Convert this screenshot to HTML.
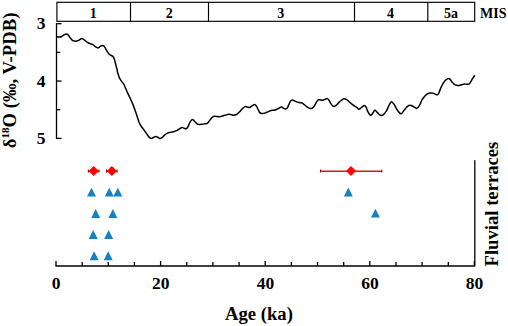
<!DOCTYPE html>
<html><head><meta charset="utf-8"><style>
html,body{margin:0;padding:0;background:#fff;}
svg{display:block;}
text{font-family:"Liberation Serif",serif;font-weight:bold;fill:#000;}
</style></head><body>
<svg width="508" height="326" viewBox="0 0 508 326">
<rect x="0" y="0" width="508" height="326" fill="#fff"/>
<g fill="none" stroke="#000" stroke-width="1.15">
<rect x="56.9" y="2.3" width="417.8" height="19"/>
<line x1="130.5" y1="2.3" x2="130.5" y2="21.3"/>
<line x1="208.5" y1="2.3" x2="208.5" y2="21.3"/>
<line x1="354.5" y1="2.3" x2="354.5" y2="21.3"/>
<line x1="427.8" y1="2.3" x2="427.8" y2="21.3"/>
</g>
<g font-size="14">
<text x="93.3" y="17.7" text-anchor="middle" style="font-size:14px">1</text>
<text x="169.2" y="17.7" text-anchor="middle" style="font-size:14px">2</text>
<text x="280.7" y="17.7" text-anchor="middle" style="font-size:14px">3</text>
<text x="390.5" y="17.7" text-anchor="middle" style="font-size:14px">4</text>
<text x="450.9" y="17.7" text-anchor="middle" style="font-size:14px">5a</text>
<text x="480.1" y="18.2" style="font-size:14px">MIS</text>
</g>
<g stroke="#000" stroke-width="1.3" fill="none">
<line x1="56.5" y1="23.1" x2="56.5" y2="139"/>
<line x1="56.5" y1="23.7" x2="61.5" y2="23.7"/><line x1="56.5" y1="52.4" x2="60.3" y2="52.4"/><line x1="56.5" y1="81.05" x2="61.5" y2="81.05"/><line x1="56.5" y1="109.7" x2="60.3" y2="109.7"/><line x1="56.5" y1="138.4" x2="61.5" y2="138.4"/>
<line x1="55.5" y1="266" x2="475" y2="266"/>
<line x1="474.8" y1="160.2" x2="474.8" y2="266"/>
<line x1="56.0" y1="266" x2="56.0" y2="261"/><line x1="82.2" y1="266" x2="82.2" y2="262"/><line x1="108.3" y1="266" x2="108.3" y2="262"/><line x1="134.4" y1="266" x2="134.4" y2="262"/><line x1="160.6" y1="266" x2="160.6" y2="261"/><line x1="186.8" y1="266" x2="186.8" y2="262"/><line x1="212.9" y1="266" x2="212.9" y2="262"/><line x1="239.1" y1="266" x2="239.1" y2="262"/><line x1="265.2" y1="266" x2="265.2" y2="261"/><line x1="291.4" y1="266" x2="291.4" y2="262"/><line x1="317.5" y1="266" x2="317.5" y2="262"/><line x1="343.7" y1="266" x2="343.7" y2="262"/><line x1="369.8" y1="266" x2="369.8" y2="261"/><line x1="396.0" y1="266" x2="396.0" y2="262"/><line x1="422.1" y1="266" x2="422.1" y2="262"/><line x1="448.3" y1="266" x2="448.3" y2="262"/><line x1="474.4" y1="266" x2="474.4" y2="261"/>
</g>
<g style="font-size:17px">
<text x="41" y="29.4" text-anchor="middle" style="font-size:17.5px">3</text>
<text x="41" y="86.6" text-anchor="middle" style="font-size:17.5px">4</text>
<text x="41" y="144" text-anchor="middle" style="font-size:17.5px">5</text>
<text style="font-size:17.5px" x="56.2" y="289.3" text-anchor="middle">0</text><text style="font-size:17.5px" x="160.8" y="289.3" text-anchor="middle">20</text><text style="font-size:17.5px" x="265.4" y="289.3" text-anchor="middle">40</text><text style="font-size:17.5px" x="370.0" y="289.3" text-anchor="middle">60</text><text style="font-size:17.5px" x="474.6" y="289.3" text-anchor="middle">80</text>
</g>
<path d="M56.5 36.7 C56.6 36.7 56.6 36.7 57.1 36.7 C57.6 36.8 58.6 37.0 59.4 37.0 C60.2 37.0 60.9 36.9 61.7 36.5 C62.5 36.1 63.2 35.2 64.0 34.8 C64.8 34.4 65.6 34.0 66.3 34.0 C67.0 34.0 67.6 34.4 68.2 35.0 C68.8 35.6 69.4 36.8 70.1 37.7 C70.8 38.6 71.6 39.7 72.4 40.3 C73.2 40.9 73.9 41.0 74.7 41.1 C75.5 41.2 76.2 41.2 77.0 41.0 C77.8 40.8 78.5 40.4 79.3 40.0 C80.1 39.6 81.0 38.6 81.9 38.6 C82.8 38.6 83.7 39.5 84.6 40.1 C85.5 40.7 86.5 41.8 87.4 42.4 C88.3 43.0 89.2 43.2 90.1 43.6 C91.0 44.0 92.0 44.2 92.9 44.7 C93.8 45.2 94.7 46.4 95.6 46.9 C96.5 47.4 97.3 48.0 98.1 47.9 C98.9 47.8 99.5 46.8 100.2 46.4 C100.9 46.0 101.8 45.4 102.5 45.4 C103.2 45.4 103.7 45.7 104.4 46.6 C105.1 47.5 105.9 49.5 106.7 50.7 C107.5 51.9 108.4 53.2 109.0 53.9 C109.6 54.6 109.9 54.7 110.5 55.1 C111.1 55.5 112.2 55.8 112.8 56.4 C113.4 57.0 113.8 57.8 114.2 58.7 C114.6 59.6 114.8 60.9 115.1 62.0 C115.4 63.1 115.7 64.4 116.0 65.6 C116.3 66.8 116.7 68.1 117.0 69.3 C117.3 70.5 117.3 71.3 117.6 72.5 C117.9 73.7 118.5 75.2 118.8 76.2 C119.1 77.2 119.0 77.3 119.5 78.2 C120.0 79.1 120.9 80.4 121.6 81.4 C122.3 82.4 123.1 83.1 123.8 84.2 C124.5 85.3 125.0 86.9 125.6 88.3 C126.2 89.7 126.8 91.1 127.4 92.5 C128.0 93.9 128.8 95.2 129.4 96.6 C130.1 98.0 130.7 99.5 131.3 100.8 C131.9 102.1 132.2 102.7 132.9 104.4 C133.6 106.1 134.6 108.9 135.3 111.0 C136.1 113.1 136.8 115.2 137.4 117.2 C138.1 119.2 138.5 121.1 139.2 122.7 C139.9 124.3 140.9 125.8 141.7 127.0 C142.5 128.2 143.3 129.0 144.1 130.1 C144.9 131.2 145.8 132.5 146.6 133.7 C147.4 134.9 148.3 136.3 149.1 137.1 C149.9 137.9 150.6 138.5 151.4 138.5 C152.2 138.5 152.9 137.6 153.7 137.3 C154.4 137.0 155.2 136.6 155.9 136.6 C156.6 136.6 157.2 137.0 157.9 137.3 C158.6 137.6 159.4 138.5 160.2 138.5 C161.0 138.5 161.7 137.7 162.5 137.1 C163.3 136.5 164.0 135.4 164.8 134.8 C165.6 134.2 166.3 133.7 167.1 133.3 C167.9 132.9 168.6 132.6 169.4 132.4 C170.2 132.2 171.3 132.1 172.1 131.9 C172.9 131.7 173.6 131.6 174.4 131.4 C175.2 131.2 175.9 131.1 176.7 130.7 C177.5 130.3 178.2 129.8 179.0 129.2 C179.8 128.6 181.0 127.6 181.8 127.4 C182.7 127.2 183.3 128.0 184.1 128.2 C184.9 128.4 185.7 129.0 186.4 128.7 C187.1 128.3 187.7 127.2 188.3 126.1 C188.9 125.0 189.4 123.1 190.1 122.0 C190.8 120.9 191.6 119.5 192.4 119.4 C193.2 119.3 193.9 120.8 194.7 121.5 C195.5 122.2 196.3 123.3 197.0 123.8 C197.7 124.3 198.1 124.3 198.9 124.4 C199.8 124.5 201.1 124.4 202.1 124.3 C203.1 124.2 203.9 124.0 204.8 123.8 C205.7 123.6 206.8 123.8 207.6 123.2 C208.4 122.6 209.1 121.1 209.9 120.1 C210.7 119.1 211.5 118.0 212.2 117.4 C212.9 116.8 213.2 116.5 214.0 116.3 C214.8 116.1 216.0 116.4 216.8 116.5 C217.6 116.6 218.2 116.7 219.0 116.7 C219.8 116.7 220.4 116.5 221.4 116.3 C222.4 116.0 223.9 115.5 225.1 115.2 C226.3 114.9 227.7 114.4 228.8 114.3 C229.9 114.2 230.8 114.5 231.6 114.7 C232.4 114.9 233.1 115.3 233.9 115.2 C234.7 115.1 235.7 114.8 236.6 114.3 C237.5 113.8 238.5 112.9 239.4 112.0 C240.3 111.1 241.2 109.9 242.1 109.0 C243.0 108.1 244.1 106.9 244.9 106.6 C245.8 106.2 246.4 106.8 247.2 106.9 C248.0 107.1 248.7 107.7 249.5 107.5 C250.3 107.3 251.0 106.5 251.8 106.0 C252.7 105.5 253.8 104.4 254.6 104.4 C255.4 104.4 255.8 105.2 256.4 106.1 C257.0 107.0 257.7 108.7 258.3 109.8 C258.9 110.9 259.2 112.0 259.8 112.6 C260.4 113.2 261.0 113.4 261.8 113.5 C262.6 113.6 263.7 113.4 264.8 113.1 C265.9 112.8 267.3 112.0 268.4 111.6 C269.5 111.1 270.2 110.6 271.2 110.4 C272.2 110.2 273.3 110.5 274.4 110.2 C275.5 110.0 276.5 109.4 277.6 108.9 C278.8 108.4 280.3 107.1 281.3 107.0 C282.3 106.9 282.9 108.1 283.6 108.4 C284.3 108.7 284.8 109.1 285.4 109.0 C286.0 108.9 286.8 108.6 287.3 107.9 C287.9 107.2 288.2 105.9 288.7 104.8 C289.2 103.7 289.9 101.9 290.5 101.1 C291.1 100.3 291.9 100.0 292.5 99.9 C293.1 99.8 293.5 100.4 294.2 100.7 C294.9 101.0 295.6 101.6 296.5 101.9 C297.4 102.2 298.4 102.4 299.3 102.6 C300.2 102.8 300.8 102.5 301.6 102.8 C302.4 103.1 303.1 103.7 303.9 104.3 C304.7 104.9 305.7 106.0 306.6 106.6 C307.5 107.2 308.4 107.8 309.2 108.1 C310.0 108.4 310.5 108.7 311.2 108.5 C311.9 108.3 312.6 108.0 313.3 107.2 C314.0 106.4 314.9 104.8 315.6 103.6 C316.3 102.4 317.0 100.8 317.7 100.2 C318.4 99.6 319.1 99.9 320.0 99.9 C320.9 99.9 321.9 100.3 322.8 100.2 C323.7 100.1 324.3 99.6 325.1 99.3 C325.9 99.0 326.7 98.4 327.4 98.6 C328.1 98.8 328.6 99.6 329.2 100.5 C329.8 101.4 330.3 102.9 331.0 103.9 C331.7 104.9 332.5 106.0 333.3 106.3 C334.1 106.6 334.8 106.3 335.6 105.7 C336.5 105.1 337.5 103.8 338.4 102.9 C339.3 102.0 340.3 101.2 341.2 100.5 C342.1 99.8 343.0 98.9 343.9 98.8 C344.8 98.7 345.8 99.2 346.7 99.7 C347.6 100.2 348.5 101.2 349.4 102.0 C350.3 102.8 351.3 103.6 352.2 104.3 C353.1 105.0 354.2 105.8 355.0 106.3 C355.8 106.8 356.1 107.0 356.8 107.5 C357.5 108.0 358.3 109.3 359.1 109.3 C359.9 109.3 360.5 108.1 361.4 107.5 C362.2 106.9 363.4 105.6 364.2 105.5 C365.0 105.4 365.4 106.0 366.0 107.0 C366.6 108.0 367.1 110.2 367.9 111.6 C368.6 113.0 369.7 114.9 370.5 115.2 C371.3 115.5 372.0 114.1 372.7 113.3 C373.4 112.5 374.1 110.4 374.8 110.2 C375.5 110.0 376.3 111.3 377.1 112.1 C377.9 112.8 378.6 114.1 379.4 114.7 C380.2 115.3 381.1 115.7 381.9 115.6 C382.7 115.5 383.3 114.8 384.0 114.1 C384.7 113.4 385.5 112.5 386.3 111.2 C387.1 109.9 387.8 107.7 388.6 106.1 C389.4 104.5 390.5 102.2 391.3 101.8 C392.1 101.4 393.0 103.2 393.6 103.8 C394.2 104.4 394.2 104.4 394.8 105.5 C395.4 106.6 396.4 108.8 397.4 110.2 C398.4 111.6 399.9 113.8 401.0 113.8 C402.1 113.8 403.0 111.4 404.1 110.2 C405.2 109.0 406.3 107.2 407.4 106.4 C408.4 105.6 409.4 105.2 410.4 105.2 C411.4 105.2 412.4 106.1 413.5 106.6 C414.6 107.1 415.7 108.6 416.7 108.4 C417.7 108.2 418.7 106.6 419.6 105.2 C420.5 103.8 421.1 101.4 421.9 100.0 C422.7 98.6 423.5 97.7 424.3 96.8 C425.1 95.9 425.9 95.0 426.6 94.4 C427.4 93.8 428.1 93.5 428.8 93.3 C429.5 93.1 430.2 93.0 431.0 93.0 C431.8 93.0 432.9 93.1 433.8 93.4 C434.7 93.7 435.8 94.7 436.6 94.8 C437.4 94.9 437.9 94.6 438.4 93.9 C438.9 93.2 439.3 91.8 439.8 90.6 C440.3 89.4 440.7 88.2 441.2 87.0 C441.7 85.8 442.4 84.7 443.0 83.7 C443.6 82.7 444.2 81.7 444.8 81.0 C445.4 80.3 446.1 79.8 446.7 79.4 C447.3 79.0 447.8 78.6 448.4 78.6 C449.0 78.6 449.5 78.7 450.1 79.3 C450.7 79.9 451.3 81.2 452.0 82.0 C452.7 82.8 453.5 83.8 454.3 84.3 C455.1 84.8 455.8 85.0 456.6 85.2 C457.4 85.4 458.4 85.5 459.3 85.4 C460.2 85.3 461.2 84.8 462.1 84.6 C463.0 84.3 463.6 84.0 464.4 83.9 C465.2 83.9 465.9 84.3 466.7 84.3 C467.5 84.3 468.3 84.5 469.0 84.1 C469.7 83.6 470.2 82.6 470.8 81.6 C471.4 80.6 472.0 79.4 472.7 78.3 C473.4 77.2 474.4 75.7 474.8 75.2" fill="none" stroke="#000" stroke-width="1.5" stroke-linejoin="round"/>
<line x1="88.4" y1="171.3" x2="99.0" y2="171.3" stroke="#e01414" stroke-width="1.6"/><line x1="88.4" y1="169.5" x2="88.4" y2="172.5" stroke="#b00000" stroke-width="1.1"/><line x1="99.0" y1="169.5" x2="99.0" y2="172.5" stroke="#b00000" stroke-width="1.1"/><path d="M93.7 166.1 L98.7 171 L93.7 175.9 L88.7 171 Z" fill="#ff0000"/><line x1="106.5" y1="171.3" x2="117.1" y2="171.3" stroke="#e01414" stroke-width="1.6"/><line x1="106.5" y1="169.5" x2="106.5" y2="172.5" stroke="#b00000" stroke-width="1.1"/><line x1="117.1" y1="169.5" x2="117.1" y2="172.5" stroke="#b00000" stroke-width="1.1"/><path d="M111.8 166.1 L116.8 171 L111.8 175.9 L106.8 171 Z" fill="#ff0000"/><line x1="320.5" y1="171.3" x2="381.8" y2="171.3" stroke="#e01414" stroke-width="1.6"/><line x1="320.5" y1="169.5" x2="320.5" y2="172.5" stroke="#b00000" stroke-width="1.1"/><line x1="381.8" y1="169.5" x2="381.8" y2="172.5" stroke="#b00000" stroke-width="1.1"/><path d="M351.0 166.1 L356.0 171 L351.0 175.9 L346.0 171 Z" fill="#ff0000"/>
<g fill="#1580c2"><path d="M91.5 187.7 L96.0 196.6 L87.0 196.6 Z"/><path d="M109.3 187.7 L113.8 196.6 L104.8 196.6 Z"/><path d="M117.8 187.7 L122.3 196.6 L113.3 196.6 Z"/><path d="M348.3 187.6 L352.8 196.5 L343.8 196.5 Z"/><path d="M95.7 209.0 L100.2 217.9 L91.2 217.9 Z"/><path d="M112.9 209.0 L117.4 217.9 L108.4 217.9 Z"/><path d="M375.4 208.7 L379.9 217.6 L370.9 217.6 Z"/><path d="M93.2 230.0 L97.7 238.9 L88.7 238.9 Z"/><path d="M108.6 230.0 L113.1 238.9 L104.1 238.9 Z"/><path d="M94.1 251.3 L98.6 260.2 L89.6 260.2 Z"/><path d="M108.2 251.3 L112.7 260.2 L103.7 260.2 Z"/></g>
<text x="225" y="320.3" style="font-size:18.67px">Age (ka)</text>
<text transform="translate(498.4 266.5) rotate(-90)" x="0" y="0" style="font-size:18.67px">Fluvial terraces</text>
<text transform="translate(16 148.2) rotate(-90)" x="0" y="0" style="font-size:18.67px">δ<tspan dy="-7" style="font-size:11px">18</tspan><tspan dy="7">O (‰, V-PDB)</tspan></text>
</svg>
</body></html>
